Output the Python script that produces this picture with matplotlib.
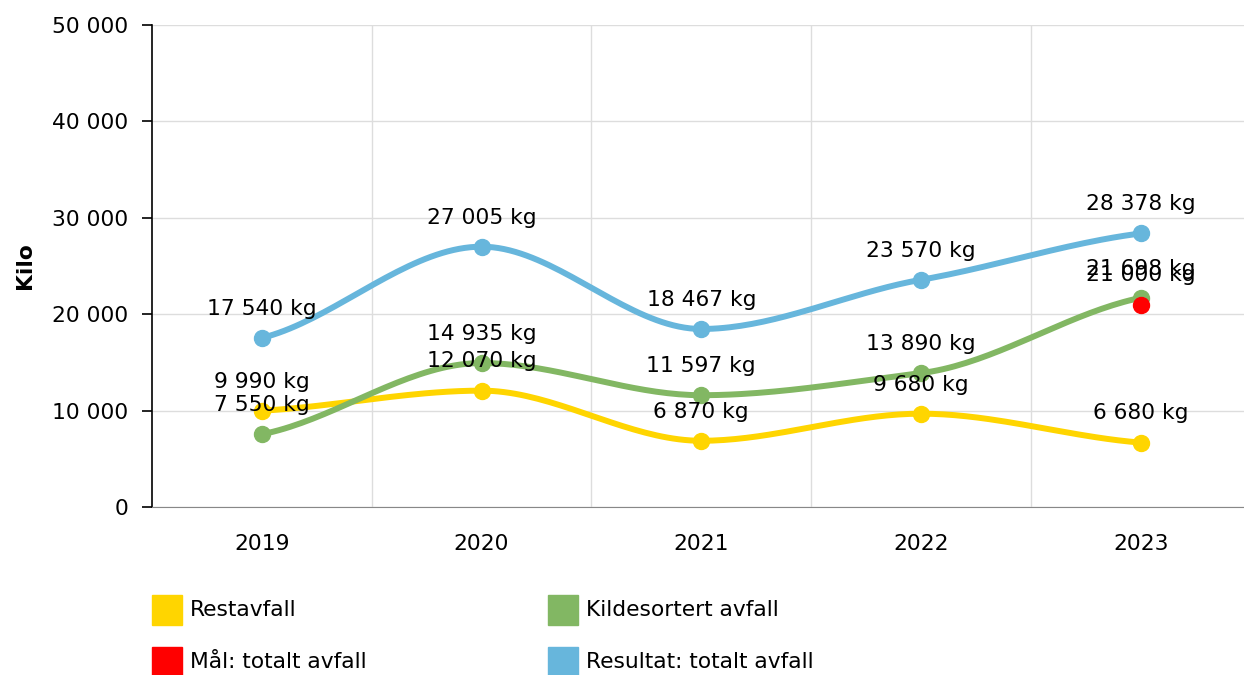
import numpy as np
import matplotlib.pyplot as plt
from matplotlib.patches import Rectangle

# データ
years = ['2019', '2020', '2021', '2022', '2023']
restavfall = [9990, 12070, 6870, 9680, 6680]
kildesortert = [7550, 14935, 11597, 13890, 21698]
resultat = [17540, 27005, 18467, 23570, 28378]
maal_year = 4
maal_value = 21000

legend_labels = ['Restavfall', 'Kildesortert avfall', 'Mål: totalt avfall', 'Resultat: totalt avfall']

c_rest = '#FFD500'
c_kilde = '#82B763'
c_res = '#67B6DC'
c_maal = '#FF0000'
legend_colors = [c_rest, c_kilde, c_maal, c_res]


def fmt(v):
    return f'{v:,}'.replace(',', ' ')


# 単調な三次補間で滑らかな線を描く（接線を少し弱めに）
def smooth(y, n=40):
    y = np.asarray(y, dtype=float)
    x = np.arange(len(y), dtype=float)
    d = np.diff(y)
    m = np.zeros_like(y)
    for i in range(1, len(y) - 1):
        if d[i - 1] * d[i] > 0:
            m[i] = 0.8 * 2 / (1 / d[i - 1] + 1 / d[i])
    m[0] = 0.6 * d[0]
    m[-1] = 0.6 * d[-1]
    xs, ys = [], []
    for i in range(len(y) - 1):
        t = np.linspace(0, 1, n)
        h00 = 2 * t**3 - 3 * t**2 + 1
        h10 = t**3 - 2 * t**2 + t
        h01 = -2 * t**3 + 3 * t**2
        h11 = t**3 - t**2
        xs.append(x[i] + t)
        ys.append(h00 * y[i] + h10 * m[i] + h01 * y[i + 1] + h11 * m[i + 1])
    return np.concatenate(xs), np.concatenate(ys)


fs = 15.7
plt.rcParams['font.family'] = 'DejaVu Sans'
plt.rcParams['font.size'] = fs

W, H = 1244, 675
fig = plt.figure(figsize=(W / 100, H / 100), dpi=100)
ax = fig.add_axes([152 / W, 1 - 507 / H, 1 - 152 / W, (507 - 25) / H])

x = np.arange(len(years))
for vals, c in [(restavfall, c_rest), (kildesortert, c_kilde), (resultat, c_res)]:
    sx, sy = smooth(vals)
    ax.plot(sx, sy, color=c, lw=4.3, solid_capstyle='round', zorder=3)
    ax.plot(x, vals, 'o', color=c, ms=11.5, zorder=4)
    for xi, v in zip(x, vals):
        ax.annotate(fmt(v) + ' kg', (xi, v), xytext=(0, 21), textcoords='offset points',
                    ha='center', va='center', fontsize=fs, zorder=6)

ax.plot([maal_year], [maal_value], 'o', color=c_maal, ms=11.5, zorder=5)
ax.annotate(fmt(maal_value) + ' kg', (maal_year, maal_value), xytext=(0, 21),
            textcoords='offset points', ha='center', va='center', fontsize=fs, zorder=6)

ax.set_xlim(-0.5, 4.47)
ax.set_ylim(0, 50000)
ax.set_xticks(x)
ax.set_xticklabels(years)
ax.set_yticks(range(0, 50001, 10000))
ax.set_yticklabels([fmt(v) for v in range(0, 50001, 10000)])
ax.set_xticks(np.arange(0.5, 4, 1), minor=True)
ax.grid(axis='y', color='#dddddd', lw=1)
ax.grid(axis='x', which='minor', color='#dddddd', lw=1)
ax.set_axisbelow(True)
ax.tick_params(axis='x', which='both', length=0, pad=19.5)
ax.tick_params(axis='y', length=7, width=1.2, pad=10)
ax.spines['top'].set_visible(False)
ax.spines['right'].set_visible(False)
ax.spines['bottom'].set_color('#888888')
ax.spines['left'].set_linewidth(1.2)
ax.set_ylabel('Kilo', fontweight='bold', fontsize=fs, labelpad=12)

# 凡例（2列、四角＋テキスト）
col_x = [152, 548]
row_y = [595, 647]
for k, (lab, col) in enumerate(zip(legend_labels, legend_colors)):
    px = col_x[k % 2]
    py = row_y[k // 2]
    fig.add_artist(Rectangle((px / W, 1 - (py + 30) / H), 30 / W, 30 / H,
                             transform=fig.transFigure, color=col))
    fig.text((px + 38) / W, 1 - (py + 15) / H, lab, ha='left', va='center', fontsize=fs)

fig.savefig('out.png', dpi=100)
